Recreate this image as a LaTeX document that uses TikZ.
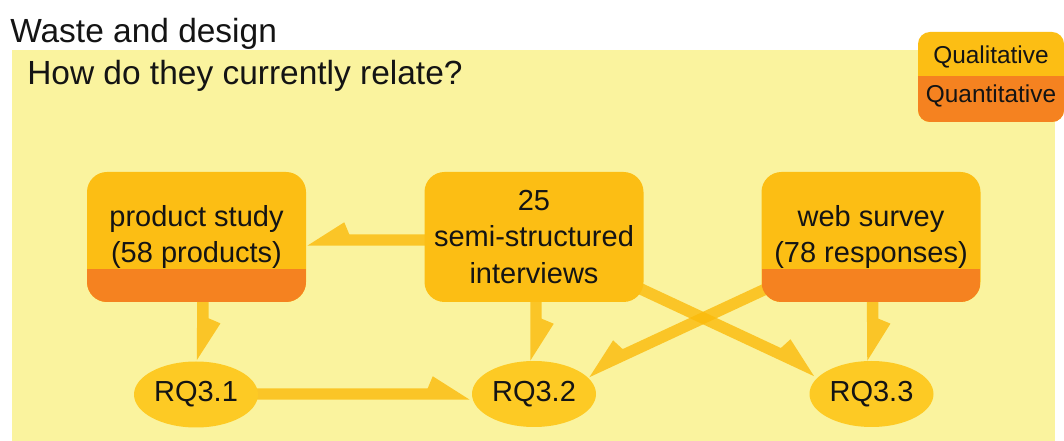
\documentclass[tikz,border=0pt]{standalone}
\usepackage{fontspec}
\setmainfont{Liberation Sans}
\usetikzlibrary{calc,shapes.geometric}
\definecolor{bgyellow}{RGB}{250,243,158}
\definecolor{boxyellow}{RGB}{252,190,20}
\definecolor{boxorange}{RGB}{245,130,32}
\definecolor{ellyellow}{RGB}{253,202,36}
\definecolor{arrowcol}{RGB}{250,186,10}
\definecolor{txt}{RGB}{20,20,20}
\pgfdeclarelayer{back}
\pgfdeclarelayer{mid}
\pgfsetlayers{back,mid,main}
\newcommand\boxfont{\fontsize{21.75}{27.4}\selectfont}
\newcommand\legfont{\fontsize{18.3}{22}\selectfont}
\newcommand\titlefont{\fontsize{25.1}{30}\selectfont}
% harpoon connector: #1 start, #2 end of centre line, #3 = 1 barb on left, -1 barb on right
\newcommand\harp[3]{%
  \path (#1); \pgfgetlastxy{\hxa}{\hya}%
  \path (#2); \pgfgetlastxy{\hxb}{\hyb}%
  \pgfmathsetmacro\hang{atan2(\hyb-\hya,\hxb-\hxa)}%
  \pgfmathsetlengthmacro\hlen{veclen(\hxb-\hxa,\hyb-\hya)}%
  \begin{scope}[shift={(\hxb,\hyb)}, rotate=\hang]
    \fill[harpfill] (0pt,{-(#3)*4.3pt}) -- (-27.75pt,{(#3)*13.3pt})
      -- (-31.5pt,{(#3)*4.3pt}) -- (-\hlen,{(#3)*4.3pt})
      -- (-\hlen,{-(#3)*4.3pt}) -- cycle;
  \end{scope}}
\begin{document}
\begin{tikzpicture}[x=0.75pt,y=-0.75pt,
  harpfill/.style={fill=arrowcol, fill opacity=0.8},
  srcbox/.style={rounded corners=15pt, fill=boxyellow, minimum width=164.25pt,
    minimum height=97.5pt, inner sep=0pt, align=center, font=\boxfont, text=txt},
  quantbox/.style={srcbox, path picture={\fill[boxorange, sharp corners]
    (path picture bounding box.south west) rectangle
    ($(path picture bounding box.south east)+(0,-33)$);}},
  rq/.style={ellipse, fill=ellyellow, minimum width=93pt, minimum height=49.5pt,
    inner sep=0pt, font=\boxfont, text=txt},
  legbox/.style={rounded corners=9pt, fill=boxyellow, minimum width=109.5pt,
    minimum height=67.5pt, inner sep=0pt, path picture={\fill[boxorange, sharp corners]
    (path picture bounding box.south west) rectangle
    ($(path picture bounding box.south east)+(0,-45.5)$);}},
  legtext/.style={anchor=base, inner sep=0pt, font=\legfont, text=txt},
  ttl/.style={anchor=base west, inner sep=0pt, font=\titlefont, text=txt}]
\useasboundingbox (0,0) rectangle (1064,441);
\begin{pgfonlayer}{back}
  \fill[white] (0,0) rectangle (1064,445);
  \fill[bgyellow] (12,50) rectangle (1055,446);
\end{pgfonlayer}
\node[ttl] (title) at (10,43) {Waste and design};
\node[ttl] (question) at (27,85) {How do they currently relate?};
\node[legbox] (legend) at (991,77) {};
\node[legtext] (qual) at (991,64) {Qualitative};
\node[legtext] (quant) at (991,103) {Quantitative};
\node[quantbox] (ps) at (196.5,237) {product study\\(58 products)};
\node[srcbox] (int) at (534,237) {25\\semi-structured\\interviews};
\node[quantbox] (ws) at (871,237) {web survey\\(78 responses)};
\node[rq] (rq1) at (196,394.5) {RQ3.1};
\node[rq] (rq2) at (534,394) {RQ3.2};
\node[rq] (rq3) at (871.5,394) {RQ3.3};
\begin{pgfonlayer}{mid}
  \harp{$(int.west)+(10,3)$}{$(ps.east)+(1,3)$}{-1}
  \harp{$(ps.south)+(6.5,-12)$}{$(rq1.north)+(6.5,-1)$}{1}
  \harp{$(rq1.east)+(-5,-0.5)$}{$(rq2.west)+(-2,0)$}{1}
  \harp{$(int.south)+(2,-12)$}{$(rq2.north)+(2,0)$}{1}
  \harp{$(ws.south)+(1.5,-12)$}{$(rq3.north)+(1.5,0)$}{1}
  \harp{$(ws.south west)+(6,-14)$}{$(rq2.center)+(53,-22)$}{-1}
  \harp{$(int.south east)+(-13,-18)$}{$(rq3.center)+(-55,-23)$}{1}
\end{pgfonlayer}
\end{tikzpicture}
\end{document}
